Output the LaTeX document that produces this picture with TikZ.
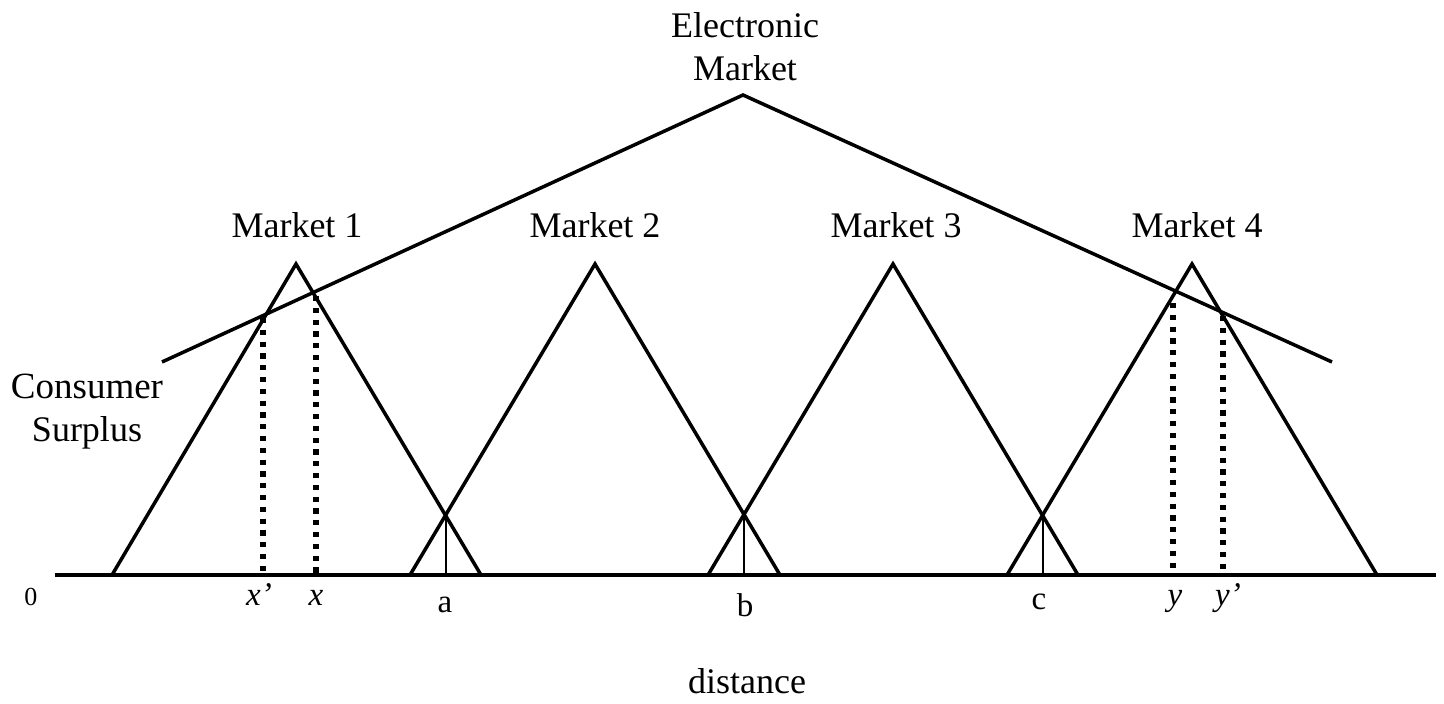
\documentclass[tikz,border=0pt]{standalone}
\usepackage{fontspec}
\setmainfont{Liberation Serif}
\begin{document}
\begin{tikzpicture}[x=0.5pt,y=-0.5pt,
  thick line/.style={line width=1.75pt, line cap=butt, line join=miter},
  thin line/.style={line width=1pt},
  dotline/.style={line width=2.6pt, dash pattern=on 2.6pt off 3.3pt},
  lbl/.style={font=\fontsize{18}{21.5}\selectfont, inner sep=0pt, anchor=base},
  small/.style={lbl, font=\fontsize{16.5}{20}\selectfont},
  multi/.style={lbl, align=center, anchor=center}]
\useasboundingbox (0,0) rectangle (1444,704);
% baseline
\coordinate (b0) at (55,575);
\coordinate (b1) at (1436,575);
\draw[thick line] (b0) -- (b1);
% local market triangles
\coordinate (L1) at (112,575); \coordinate (A1) at (296,264); \coordinate (R1) at (481,575);
\coordinate (L2) at (410,575); \coordinate (A2) at (595,264); \coordinate (R2) at (780,575);
\coordinate (L3) at (708,575); \coordinate (A3) at (893,264); \coordinate (R3) at (1078,575);
\coordinate (L4) at (1007,575); \coordinate (A4) at (1192,264); \coordinate (R4) at (1377,575);
\draw[thick line] (L1) -- (A1) -- (R1);
\draw[thick line] (L2) -- (A2) -- (R2);
\draw[thick line] (L3) -- (A3) -- (R3);
\draw[thick line] (L4) -- (A4) -- (R4);
% electronic market
\coordinate (EL) at (162,362); \coordinate (EA) at (743,95); \coordinate (ER) at (1332,362);
\draw[thick line] (EL) -- (EA) -- (ER);
% intersections
\coordinate (ia) at (445.5,515); \coordinate (ba) at (445.5,575);
\coordinate (ib) at (744,515); \coordinate (bb) at (744,575);
\coordinate (ic) at (1042.5,515); \coordinate (bc) at (1042.5,575);
\draw[thin line] (ia) -- (ba);
\draw[thin line] (ib) -- (bb);
\draw[thin line] (ic) -- (bc);
% dotted verticals
\coordinate (tx1) at (263,318); \coordinate (bx1) at (263,573);
\coordinate (tx2) at (316,296); \coordinate (bx2) at (316,573);
\coordinate (ty1) at (1173,303); \coordinate (by1) at (1173,573);
\coordinate (ty2) at (1223,316); \coordinate (by2) at (1223,573);
\draw[dotline] (tx1) -- (bx1);
\draw[dotline] (tx2) -- (bx2);
\draw[dotline] (ty1) -- (by1);
\draw[dotline] (ty2) -- (by2);
% labels
\node[multi] (em) at (745,47) {Electronic\\Market};
\node[lbl] (m1) at (297,238) {Market 1};
\node[lbl] (m2) at (595,238) {Market 2};
\node[lbl] (m3) at (896,238) {Market 3};
\node[lbl] (m4) at (1197,238) {Market 4};
\node[multi] (cs) at (87,412) {\fontsize{18.5}{21.5}\selectfont Consumer\\Surplus};
\node[lbl, font=\fontsize{13}{15}\selectfont] (zero) at (31,605) {0};
\node[small] (lx1) at (259,605) {\itshape x'};
\node[small] (lx2) at (316,605) {\itshape x};
\node[small] (la) at (445,612) {a};
\node[small] (lb) at (745,617) {b};
\node[small] (lc) at (1039,610) {c};
\node[small] (ly1) at (1175,605) {\itshape y};
\node[small] (ly2) at (1228,605) {\itshape y'};
\node[lbl] (dist) at (747,693) {distance};
\end{tikzpicture}
\end{document}
